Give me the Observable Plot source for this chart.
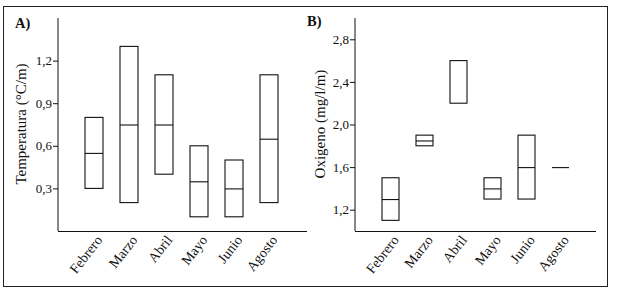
<!DOCTYPE html>
<html>
<head>
<meta charset="utf-8">
<script src="https://cdn.jsdelivr.net/npm/d3@7"></script>
<script src="https://cdn.jsdelivr.net/npm/@observablehq/plot@0.6"></script>
<style>
  html, body { margin: 0; padding: 0; background: #fff; overflow: hidden; }
  #wrap { position: relative; width: 617px; height: 293px; font-family: "Liberation Serif", serif; color: #111; }
  #wrap svg { position: absolute; left: 0; top: 0; }
  .frame { position: absolute; left: 3px; top: 6px; width: 603px; height: 279px; border: 1px solid #222; }
  .panel { position: absolute; font-weight: bold; font-size: 14.5px; line-height: 16px; }
  .ytitle { position: absolute; width: 200px; height: 18px; line-height: 18px; text-align: center;
            font-size: 15px; transform: rotate(-90deg); transform-origin: 50% 50%; white-space: nowrap; }
</style>
</head>
<body>
<div id="wrap">
  <div class="frame"></div>
  <div class="panel" style="left:15px; top:15px;">A)</div>
  <div class="panel" style="left:307px; top:13px;">B)</div>
  <div class="ytitle" style="left:-79.5px; top:115px;">Temperatura (°C/m)</div>
  <div class="ytitle" style="left:220px; top:115px;">Oxigeno (mg/l/m)</div>
</div>
<script>
// ---- data ----
const months = ["Febrero", "Marzo", "Abril", "Mayo", "Junio", "Agosto"];

// Panel A: Temperatura (°C/m)
const tempLow    = [0.30, 0.20, 0.40, 0.10, 0.10, 0.20];
const tempMedian = [0.55, 0.75, 0.75, 0.35, 0.30, 0.65];
const tempHigh   = [0.80, 1.30, 1.10, 0.60, 0.50, 1.10];
const tempTicks  = [0.3, 0.6, 0.9, 1.2];

// Panel B: Oxigeno (mg/l/m)
const oxyLow    = [1.10, 1.80, 2.20, 1.30, 1.30, 1.60];
const oxyMedian = [1.30, 1.85, null, 1.40, 1.60, 1.60];
const oxyHigh   = [1.50, 1.90, 2.60, 1.50, 1.90, 1.60];
const oxyTicks  = [1.2, 1.6, 2.0, 2.4, 2.8];

const rows = (lo, md, hi) => months.map((m, i) => ({month: m, low: lo[i], median: md[i], high: hi[i]}));
const fmt = d => d.toFixed(1).replace(".", ",");
const FONT = "Liberation Serif";

function yAxisLine() {
  return (index, scales, values, dims) => {
    const l = d3.create("svg:line")
      .attr("x1", dims.marginLeft).attr("x2", dims.marginLeft)
      .attr("y1", dims.marginTop).attr("y2", dims.height - dims.marginBottom)
      .attr("stroke", "#111");
    return l.node();
  };
}

function panel({data, yDomain, ticks, marginLeft, marginRight, xRange, padInner}) {
  return Plot.plot({
    width: 617, height: 293,
    marginLeft, marginRight, marginTop: 18, marginBottom: 62,
    style: {background: "transparent", fontFamily: FONT, color: "#111", overflow: "visible"},
    x: {domain: months, range: xRange, paddingInner: padInner, paddingOuter: padInner / 2, axis: null},
    y: {domain: yDomain, axis: null},
    marks: [
      Plot.axisY({ticks, tickFormat: fmt, tickSize: 5, tickPadding: 1.5, fontSize: 13, fontFamily: FONT, label: null, stroke: "#111", fill: "#111"}),
      Plot.axisX({tickSize: 0, tickRotate: -52, tickPadding: 6, dx: 5, fontSize: 14, fontFamily: FONT, label: null, fill: "#111"}),
      yAxisLine(),
      Plot.ruleY([yDomain[0]], {stroke: "#111"}),
      Plot.barY(data, {x: "month", y1: "low", y2: "high", fill: "none", stroke: "#111", strokeWidth: 1.1}),
      Plot.tickY(data, {x: "month", y: "median", stroke: "#111", strokeWidth: 1.1})
    ]
  });
}

const wrap = document.getElementById("wrap");
wrap.appendChild(panel({
  data: rows(tempLow, tempMedian, tempHigh),
  yDomain: [0, 1.5], ticks: tempTicks,
  marginLeft: 58, marginRight: 310, xRange: [75.3, 287.7], padInner: 0.48
}));
wrap.appendChild(panel({
  data: rows(oxyLow, oxyMedian, oxyHigh),
  yDomain: [1, 3], ticks: oxyTicks,
  marginLeft: 355, marginRight: 21, xRange: [373.4, 578.6], padInner: 0.49
}));
</script>
</body>
</html>
